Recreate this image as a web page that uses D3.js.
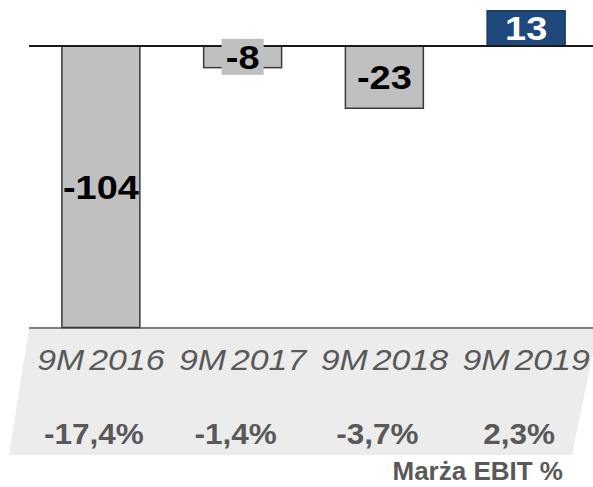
<!DOCTYPE html>
<html>
<head>
<meta charset="utf-8">
<script src="https://cdn.jsdelivr.net/npm/d3@7"></script>
<style>
  body { margin: 0; background: #fff; }
  text { font-family: "Liberation Sans", Arial, sans-serif; }
</style>
</head>
<body>
<div id="chart"></div>
<script>
const categories = ["9M 2016", "9M 2017", "9M 2018", "9M 2019"];
const ebit = [-104, -8, -23, 13];
const margins = ["-17,4%", "-1,4%", "-3,7%", "2,3%"];
const marginTitle = "Marża EBIT %";

const width = 593, height = 487;

const svg = d3.select("#chart")
    .append("svg")
    .attr("width", width)
    .attr("height", height);

const x = d3.scaleBand()
    .domain(categories)
    .range([30, 597])
    .paddingInner(0.45)
    .paddingOuter(0.225);

const y = d3.scaleLinear()
    .domain([-104, 13])
    .range([327.5, 10.8]);

// grey band under the bars, slanted on both sides
const bandTop = 328, bandBottom = 455;
svg.append("polygon")
    .attr("points", [[29, bandTop], [598, bandTop], [572, bandBottom], [9, bandBottom]].join(" "))
    .attr("fill", "#ececec");

svg.append("line")
    .attr("x1", 29).attr("x2", width)
    .attr("y1", bandTop).attr("y2", bandTop)
    .attr("stroke", "#808080")
    .attr("stroke-width", 2);

// bars
svg.append("g")
    .selectAll("rect")
    .data(ebit)
    .join("rect")
    .attr("x", (d, i) => x(categories[i]))
    .attr("width", x.bandwidth())
    .attr("y", d => y(Math.max(0, d)))
    .attr("height", d => Math.abs(y(d) - y(0)))
    .attr("fill", d => d < 0 ? "#c0c0c0" : "#1f497d")
    .attr("stroke", d => d < 0 ? "#3a3a3a" : "#17375e")
    .attr("stroke-width", 1.5);

// zero line
svg.append("line")
    .attr("x1", 29).attr("x2", width)
    .attr("y1", y(0)).attr("y2", y(0))
    .attr("stroke", "#1a1a1a")
    .attr("stroke-width", 2);

// value labels (the original font is a bit wider, so stretch it)
const labels = svg.append("g");
ebit.forEach((d, i) => {
    const cx = x(categories[i]) + x.bandwidth() / 2;
    const cy = (y(d) + y(0)) / 2;
    if (Math.abs(y(d) - y(0)) < 30) {
        labels.append("rect")
            .attr("x", cx - 21).attr("y", cy - 18)
            .attr("width", 42).attr("height", 36)
            .attr("fill", "#c0c0c0");
    }
    labels.append("text")
        .attr("transform", `translate(${cx},${cy}) scale(1.15,1)`)
        .attr("dy", "0.36em")
        .attr("text-anchor", "middle")
        .style("font-size", "33px")
        .style("font-weight", "bold")
        .attr("fill", d < 0 ? "#000" : "#fff")
        .text(d);
});

// category labels
svg.append("g")
    .selectAll("text")
    .data(categories)
    .join("text")
    .attr("transform", d => `translate(${x(d) + x.bandwidth() / 2},370) scale(1.13,1)`)
    .attr("text-anchor", "middle")
    .style("font-size", "30px")
    .style("font-style", "italic")
    .style("word-spacing", "-4px")
    .attr("fill", "#595959")
    .text(d => d);

// margin labels
svg.append("g")
    .selectAll("text")
    .data(margins)
    .join("text")
    .attr("transform", (d, i) => `translate(${x(categories[i]) + x.bandwidth() / 2 - 7},444) scale(1.05,1)`)
    .attr("text-anchor", "middle")
    .style("font-size", "30px")
    .style("font-weight", "bold")
    .attr("fill", "#595959")
    .text(d => d);

svg.append("text")
    .attr("x", 563)
    .attr("y", 480)
    .attr("text-anchor", "end")
    .style("font-size", "26px")
    .style("font-weight", "bold")
    .attr("fill", "#595959")
    .text(marginTitle);
</script>
</body>
</html>
